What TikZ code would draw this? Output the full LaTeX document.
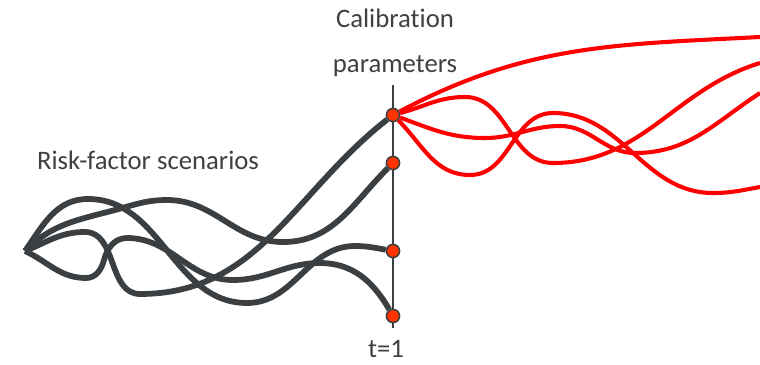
\documentclass[tikz,border=0pt]{standalone}
\usepackage{fontspec}
\setmainfont[Ligatures=NoCommon]{Carlito}
\usepackage{tikz}
\usetikzlibrary{backgrounds}

\begin{document}
\begin{tikzpicture}[
    x=0.025cm, y=0.025cm,
    scenario/.style={draw=scengray, line width=4.1pt},
    calibpath/.style={draw=red, line width=2.9pt},
    calibdot/.style={draw=scengray, fill=dotred, circle, line width=1.1pt, minimum size=3.3mm, inner sep=0pt},
    lab/.style={text=labgray, font=\fontsize{19}{23}\selectfont},
]
\definecolor{scengray}{HTML}{3B3F42}
\definecolor{dotred}{HTML}{FF3300}
\definecolor{labgray}{HTML}{404040}

\useasboundingbox (0,0) rectangle (760,364);

% -------------------------------------------------
% Start point, dots at t=1 and right-hand ends
% -------------------------------------------------
\coordinate (o) at (25,113);

\node[calibdot] (d1) at (393,249) {};
\node[calibdot] (d2) at (393,201) {};
\node[calibdot] (d3) at (393,113) {};
\node[calibdot] (d4) at (393,48) {};

\coordinate (vtop) at (393,279);
\coordinate (vbot) at (393,36);

\coordinate (e1) at (760,327);
\coordinate (e2) at (760,301);
\coordinate (e3) at (760,271);
\coordinate (e4) at (760,177);

% time axis behind the dots
\begin{scope}[on background layer]
  \draw[scengray, line width=1.4pt] (vtop) -- (vbot);
\end{scope}

% -------------------------------------------------
% Labels
% -------------------------------------------------
\node[lab, align=center] (calib) at (395,321) {Calibration\\[9pt]parameters};
\node[lab] (risk) at (148,204) {Risk-factor scenarios};
\node[lab] (tone) at (386,15) {t=1};

% -------------------------------------------------
% Risk-factor scenarios (grey)
% -------------------------------------------------
\draw[scenario] (o) to[out=55,in=180] (88,165) to[out=0,in=180] (247,61)
    to[out=0,in=180] (355,118) to[out=0,in=170] (d3);
\draw[scenario] (o) to[out=45,in=195] (115,154) to[out=15,in=180] (167,164)
    to[out=0,in=180] (283,122) to[out=0,in=225] (d2);
\draw[scenario] (o) to[out=22,in=180] (85,132) to[out=0,in=180] (140,70)
    to[out=0,in=218] (d1);
\draw[scenario] (o) to[out=-25,in=180] (86,86) to[out=0,in=-105] (104,104)
    to[out=75,in=180] (127,126) to[out=0,in=180] (233,84)
    to[out=0,in=180] (320,101) to[out=0,in=120] (d4);

% -------------------------------------------------
% Calibrated paths (red)
% -------------------------------------------------
\draw[calibpath] (d1) to[out=28,in=183] (e1);
\draw[calibpath] (d1) to[out=15,in=180] (465,267) to[out=0,in=180] (553,201)
    to[out=0,in=197] (e2);
\draw[calibpath] (d1) to[out=-20,in=180] (485,226) to[out=0,in=180] (560,238)
    to[out=0,in=180] (635,211) to[out=0,in=213] (e3);
\draw[calibpath] (d1) to[out=-45,in=180] (470,189) to[out=0,in=180] (553,251)
    to[out=0,in=180] (713,171) to[out=0,in=190] (e4);

\end{tikzpicture}
\end{document}
